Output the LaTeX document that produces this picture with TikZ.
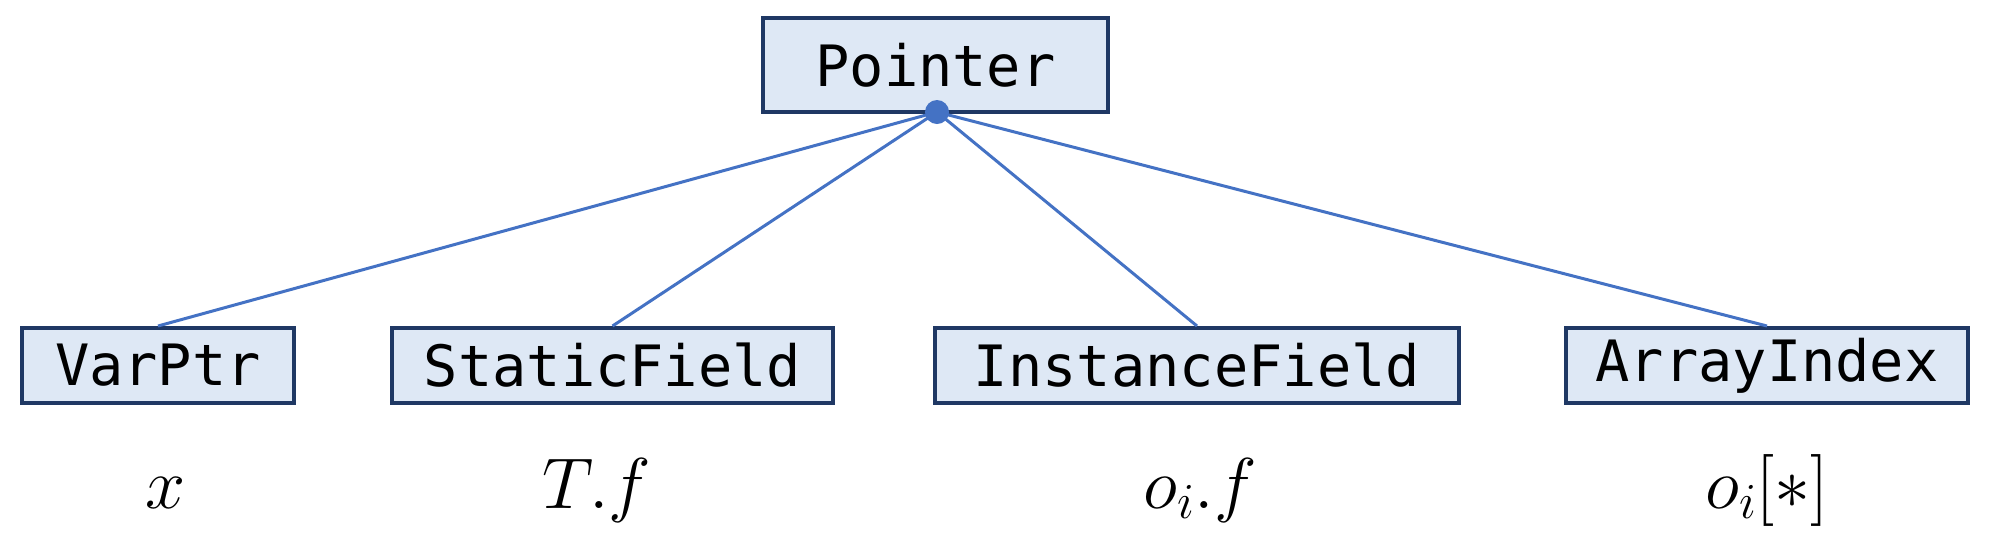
\documentclass[tikz,border=0pt]{standalone}
\usepackage{fix-cm}
\usepackage{fontspec}
\newfontfamily\boxfont{DejaVu Sans Mono}
\definecolor{boxfill}{HTML}{DEE8F5}
\definecolor{boxdraw}{HTML}{1F3864}
\definecolor{linkblue}{HTML}{4472C4}
\begin{document}
\begin{tikzpicture}[x=0.5pt,y=-0.5pt,
  kind/.style={draw=boxdraw,fill=boxfill,line width=2pt,inner sep=0pt,
    font=\boxfont\fontsize{28.5}{34}\selectfont},
  mlabel/.style={inner sep=0pt,font=\fontsize{36}{42}\selectfont},
  link/.style={draw=linkblue,line width=1.5pt}]
\useasboundingbox (0,0) rectangle (2001,543);
\node[kind,minimum width=172.5pt,minimum height=47pt] (ptr) at (935.5,65) {Pointer};
\node[kind,minimum width=136pt,minimum height=37.5pt] (var) at (158,365.5) {VarPtr};
\node[kind,minimum width=220.5pt,minimum height=37.5pt] (sf) at (612.5,365.5) {StaticField};
\node[kind,minimum width=262pt,minimum height=37.5pt] (inf) at (1197,365.5) {InstanceField};
\node[kind,minimum width=201pt,minimum height=37.5pt] (arr) at (1767,365.5) {ArrayIndex};
\coordinate (hub) at (937,112);
\draw[link] (hub) -- (var.north);
\draw[link] (hub) -- (sf.north);
\draw[link] (hub) -- (inf.north);
\draw[link] (hub) -- (arr.north);
\fill[linkblue] (hub) circle (6pt);
\node[mlabel,anchor=base] (lx) at (166,508) {$x$};
\node[mlabel,anchor=base] (lt) at (597,508) {$T.f$};
\node[mlabel,anchor=base] (lo) at (1200,508) {$o_i.f$};
\node[mlabel,anchor=base] (la) at (1767,508) {$o_i[*]$};
\end{tikzpicture}
\end{document}
